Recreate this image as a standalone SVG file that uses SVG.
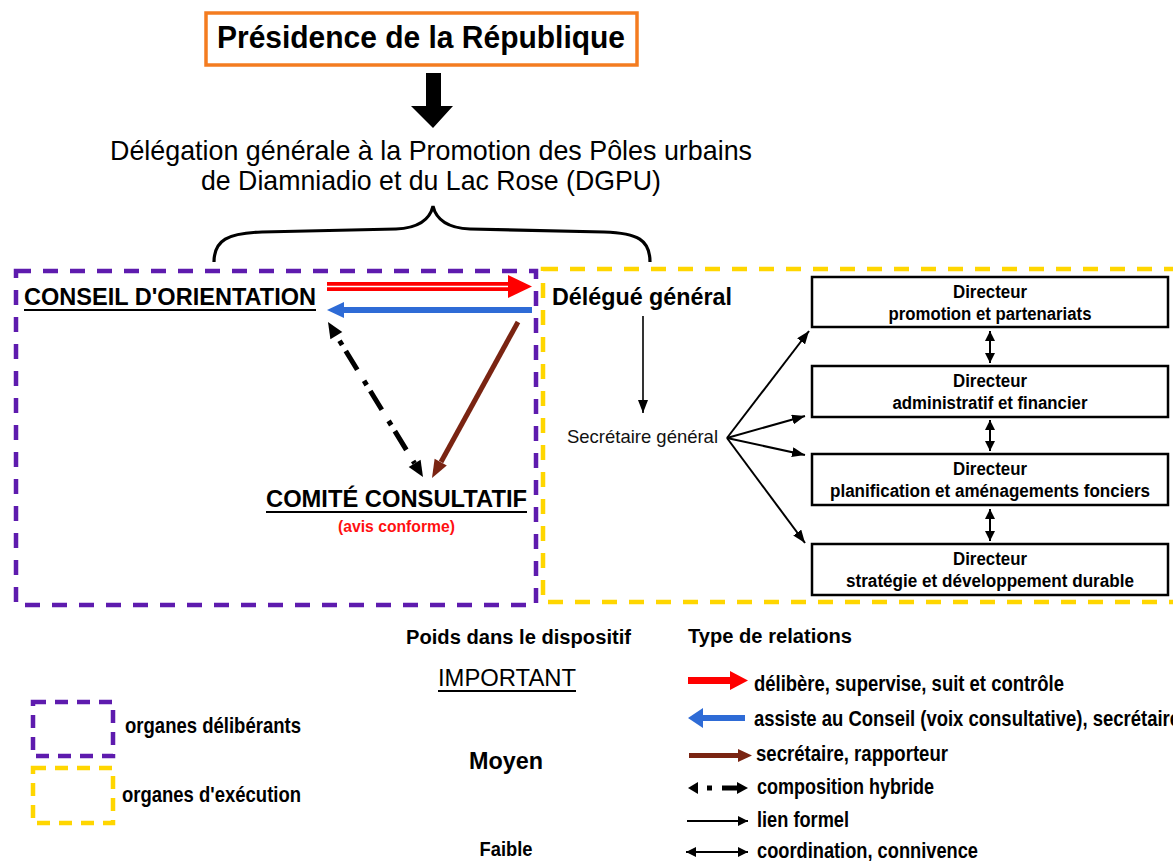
<svg xmlns="http://www.w3.org/2000/svg" width="1173" height="861" viewBox="0 0 1173 861">
<style>
text{font-family:"Liberation Sans",Arial,sans-serif;fill:#000}
.b{font-weight:bold}
.c{text-anchor:middle}
.dir{font-size:18px;font-weight:bold;text-anchor:middle}
.leg{font-size:22px;font-weight:bold}
.box{fill:#fff;stroke:#000;stroke-width:2.5}
.purple{fill:none;stroke:#5E1BAE;stroke-width:4.5;stroke-dasharray:15 12}
.yellow{fill:none;stroke:#FFD600;stroke-width:4.5;stroke-dasharray:15 12}
.thin{fill:none;stroke:#000;stroke-width:2}
.ul{stroke:#000;stroke-width:2}
</style>
<defs>
<marker id="ah" markerUnits="userSpaceOnUse" markerWidth="13" markerHeight="10" refX="13" refY="5" orient="auto-start-reverse">
<path d="M0,0 L13,5 L0,10 z" fill="#000"/>
</marker>
<marker id="ahs" markerUnits="userSpaceOnUse" markerWidth="10" markerHeight="10" refX="10" refY="5" orient="auto-start-reverse">
<path d="M0,0 L10,5 L0,10 z" fill="#000"/>
</marker>
</defs>
<rect width="1173" height="861" fill="#fff"/>

<g id="organes-deliberants-frame"><rect class="purple" x="16" y="271" width="520" height="334"/></g>
<g id="organes-execution-frame"><rect class="yellow" x="543" y="269" width="640" height="333"/></g>

<g id="presidence">
<rect x="206" y="13" width="431" height="52" fill="#fff" stroke="#F47C20" stroke-width="3.5"/>
<text class="b c" x="421" y="48" font-size="31" textLength="408" lengthAdjust="spacingAndGlyphs">Présidence de la République</text>
</g>

<g id="dgpu">
<text class="c" x="431" y="160" font-size="28" textLength="642" lengthAdjust="spacingAndGlyphs">Délégation générale à la Promotion des Pôles urbains</text>
<text class="c" x="431" y="190" font-size="28" textLength="460" lengthAdjust="spacingAndGlyphs">de Diamniadio et du Lac Rose (DGPU)</text>
</g>

<g id="brace">
<path d="M214,262 C214,240 228,233 262,232 L396,229 C420,228 430,219 433,206 C436,219 446,228 470,229 L604,232 C638,233 650,240 650,262" fill="none" stroke="#000" stroke-width="3.2"/>
</g>

<g id="conseil">
<text class="b" x="24" y="305" font-size="24" textLength="292" lengthAdjust="spacingAndGlyphs">CONSEIL D'ORIENTATION</text>
<line class="ul" x1="24" y1="310" x2="316" y2="310"/>
</g>

<g id="comite">
<text class="b" x="266" y="507" font-size="24.5" textLength="261" lengthAdjust="spacingAndGlyphs">COMITÉ CONSULTATIF</text>
<line class="ul" x1="266" y1="512" x2="527" y2="512"/>
<text class="b" x="338" y="532" font-size="16.5" textLength="117" lengthAdjust="spacingAndGlyphs" style="fill:#FF1010">(avis conforme)</text>
</g>

<g id="delegue">
<text class="b" x="552" y="305" font-size="23.2" textLength="180" lengthAdjust="spacingAndGlyphs">Délégué général</text>
</g>

<g id="secretaire">
<text x="567" y="443" font-size="19" textLength="151" lengthAdjust="spacingAndGlyphs" style="fill:#111">Secrétaire général</text>
</g>

<g id="dir1">
<rect class="box" x="812" y="277" width="356" height="50"/>
<text class="dir" x="990" y="298" textLength="74" lengthAdjust="spacingAndGlyphs">Directeur</text>
<text class="dir" x="990" y="320" textLength="203" lengthAdjust="spacingAndGlyphs">promotion et partenariats</text>
</g>
<g id="dir2">
<rect class="box" x="812" y="366" width="356" height="51"/>
<text class="dir" x="990" y="387" textLength="74" lengthAdjust="spacingAndGlyphs">Directeur</text>
<text class="dir" x="990" y="409" textLength="195" lengthAdjust="spacingAndGlyphs">administratif et financier</text>
</g>
<g id="dir3">
<rect class="box" x="812" y="454" width="356" height="51"/>
<text class="dir" x="990" y="475" textLength="74" lengthAdjust="spacingAndGlyphs">Directeur</text>
<text class="dir" x="990" y="497" textLength="320" lengthAdjust="spacingAndGlyphs">planification et aménagements fonciers</text>
</g>
<g id="dir4">
<rect class="box" x="812" y="544" width="356" height="51"/>
<text class="dir" x="990" y="565" textLength="74" lengthAdjust="spacingAndGlyphs">Directeur</text>
<text class="dir" x="990" y="587" textLength="288" lengthAdjust="spacingAndGlyphs">stratégie et développement durable</text>
</g>

<g id="connectors">
<polygon points="426,73 441,73 441,106 453,106 433,128 411,106 426,106" fill="#000"/>
<line x1="327" y1="286.5" x2="510" y2="286.5" stroke="#FF0000" stroke-width="9"/>
<line x1="327" y1="286.5" x2="509" y2="286.5" stroke="#fff" stroke-width="1.6"/>
<polygon points="508,275 532,286.5 508,298" fill="#FF0000"/>
<line x1="342" y1="310" x2="532" y2="310" stroke="#2E6BD6" stroke-width="6"/>
<polygon points="344,302 327,310 344,318" fill="#2E6BD6"/>
<line x1="518" y1="322" x2="441" y2="462" stroke="#7A2412" stroke-width="5"/>
<polygon points="446.8,465.6 432,478 434.6,458.8" fill="#7A2412"/>
<line x1="336.4" y1="335.6" x2="414.6" y2="463.4" stroke="#000" stroke-width="5" stroke-dasharray="0 6 5 7 22 7"/>
<polygon points="328,322 342.3,331.9 330.4,339.3" fill="#000"/>
<polygon points="423,477 420.6,459.7 408.7,467" fill="#000"/>
<line x1="643" y1="316" x2="643" y2="413" stroke="#000" stroke-width="1.6" marker-end="url(#ah)"/>
<line class="thin" x1="727" y1="438" x2="809" y2="331" marker-end="url(#ah)"/>
<line class="thin" x1="727" y1="438" x2="805" y2="416" marker-end="url(#ah)"/>
<line class="thin" x1="727" y1="438" x2="805" y2="455" marker-end="url(#ah)"/>
<line class="thin" x1="727" y1="438" x2="805" y2="543" marker-end="url(#ah)"/>
<line class="thin" x1="990" y1="331" x2="990" y2="363" marker-start="url(#ahs)" marker-end="url(#ahs)"/>
<line class="thin" x1="990" y1="420" x2="990" y2="451" marker-start="url(#ahs)" marker-end="url(#ahs)"/>
<line class="thin" x1="990" y1="509" x2="990" y2="541" marker-start="url(#ahs)" marker-end="url(#ahs)"/>
</g>

<g id="legend-poids">
<text class="b" x="406" y="644" font-size="20" textLength="225" lengthAdjust="spacingAndGlyphs">Poids dans le dispositif</text>
<text class="c" x="507" y="686" font-size="24.5" textLength="138" lengthAdjust="spacingAndGlyphs">IMPORTANT</text>
<line class="ul" x1="438" y1="691" x2="576" y2="691"/>
<text class="b c" x="506" y="769" font-size="24" textLength="74" lengthAdjust="spacingAndGlyphs">Moyen</text>
<text class="b c" x="506" y="856" font-size="20" textLength="53" lengthAdjust="spacingAndGlyphs">Faible</text>
</g>

<g id="legend-organes">
<rect class="purple" x="33" y="702" width="80" height="54" style="stroke-dasharray:13 9"/>
<text class="leg" x="125" y="733" textLength="176" lengthAdjust="spacingAndGlyphs">organes délibérants</text>
<rect class="yellow" x="33" y="768" width="80" height="55" style="stroke-dasharray:13 9"/>
<text class="leg" x="122" y="802" textLength="179" lengthAdjust="spacingAndGlyphs">organes d'exécution</text>
</g>

<g id="legend-relations">
<text class="b" x="688" y="643" font-size="20" textLength="164" lengthAdjust="spacingAndGlyphs">Type de relations</text>
<polygon points="688,677 730,677 730,671 748,680.5 730,690 730,684 688,684" fill="#FF0000"/>
<text class="leg" x="754" y="691" textLength="310" lengthAdjust="spacingAndGlyphs">délibère, supervise, suit et contrôle</text>
<polygon points="745,715 703,715 703,708 688,718 703,728 703,721 745,721" fill="#2E6BD6"/>
<text class="leg" x="754" y="726" textLength="426" lengthAdjust="spacingAndGlyphs">assiste au Conseil (voix consultative), secrétaire</text>
<line x1="689" y1="755.5" x2="739" y2="755.5" stroke="#7A2412" stroke-width="5"/>
<polygon points="738,749 752,755.5 738,762" fill="#7A2412"/>
<text class="leg" x="756" y="761" textLength="192" lengthAdjust="spacingAndGlyphs">secrétaire, rapporteur</text>
<polygon points="688,788 698,782 698,794" fill="#000"/>
<rect x="707" y="785.5" width="5" height="5" fill="#000"/>
<rect x="722" y="785.5" width="16" height="5" fill="#000"/>
<polygon points="737,782 748,788 737,794" fill="#000"/>
<text class="leg" x="757" y="794" textLength="177" lengthAdjust="spacingAndGlyphs">composition hybride</text>
<line class="thin" x1="687" y1="821" x2="748" y2="821" marker-end="url(#ahs)"/>
<text class="leg" x="757" y="827" textLength="92" lengthAdjust="spacingAndGlyphs">lien formel</text>
<line class="thin" x1="686" y1="852" x2="748" y2="852" marker-start="url(#ahs)" marker-end="url(#ahs)"/>
<text class="leg" x="757" y="858" textLength="221" lengthAdjust="spacingAndGlyphs">coordination, connivence</text>
</g>
</svg>
